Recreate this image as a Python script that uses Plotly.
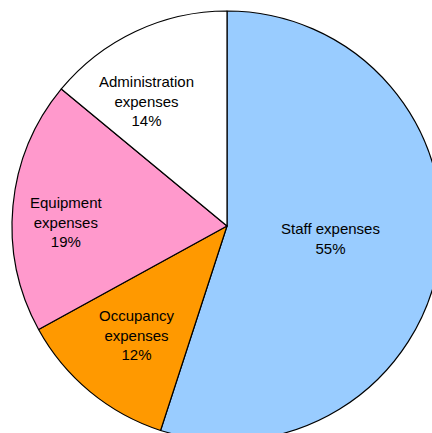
import math
import plotly.graph_objects as go

labels = ["Staff expenses", "Occupancy<br>expenses", "Equipment<br>expenses", "Administration<br>expenses"]
values = [55, 12, 19, 14]
colors = ["#99CCFF", "#FF9900", "#FF99CC", "#FFFFFF"]
# label placement settings (layout only): radius fraction and pixel nudges
label_radius = [0.48, 0.66, 0.75, 0.69]
label_xshift = [2, 0, 0, -17]
label_yshift = [4, 0, -11, -9]

W, H = 460, 460
cx, cy, r = 227, 226, 215

fig = go.Figure(go.Pie(
    labels=labels,
    values=values,
    sort=False,
    direction="clockwise",
    rotation=0,
    marker=dict(colors=colors, line=dict(color="#000000", width=1.2)),
    textinfo="none",
    domain=dict(x=[(cx - r) / W, (cx + r) / W], y=[1 - (cy + r) / H, 1 - (cy - r) / H]),
    hoverinfo="label+percent",
))

total = sum(values)
cum = 0
for lab, v, f, xs, ys in zip(labels, values, label_radius, label_xshift, label_yshift):
    mid = (cum + v / 2) / total * 2 * math.pi
    cum += v
    px = cx + f * r * math.sin(mid)
    py = cy - f * r * math.cos(mid)
    fig.add_annotation(
        x=px / W, y=1 - py / H, xref="paper", yref="paper",
        xshift=xs, yshift=ys,
        text=f"{lab}<br>{round(v / total * 100)}%",
        showarrow=False, xanchor="center", yanchor="middle", align="center",
        font=dict(family="Liberation Sans, Arial, sans-serif", size=15, color="#000000"),
    )

fig.update_layout(
    width=W, height=H,
    margin=dict(l=0, r=0, t=0, b=0),
    showlegend=False,
    paper_bgcolor="#FFFFFF",
    plot_bgcolor="#FFFFFF",
)

fig.write_html("out.html", post_script="document.body.style.margin='0';document.body.style.overflow='hidden';document.documentElement.style.overflow='hidden';")
